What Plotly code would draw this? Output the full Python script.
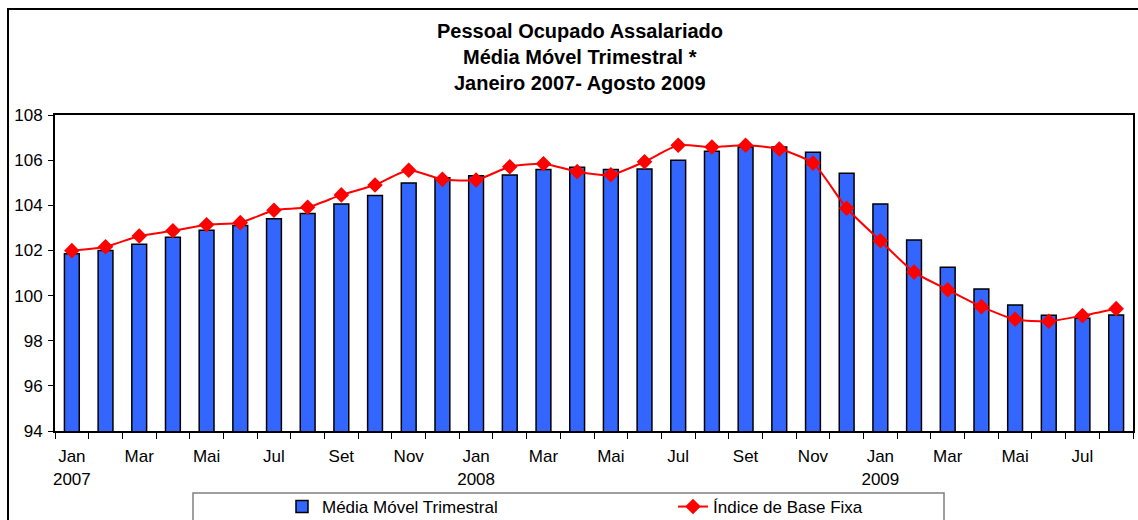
import plotly.graph_objects as go

months = ["Jan", "Fev", "Mar", "Abr", "Mai", "Jun", "Jul", "Ago", "Set", "Out", "Nov", "Dez"] * 2 + \
         ["Jan", "Fev", "Mar", "Abr", "Mai", "Jun", "Jul", "Ago"]
tick_labels = ["Jan<br>2007", "Mar", "Mai", "Jul", "Set", "Nov",
               "Jan<br>2008", "Mar", "Mai", "Jul", "Set", "Nov",
               "Jan<br>2009", "Mar", "Mai", "Jul"]

media_movel = [101.85, 102.0, 102.27, 102.58, 102.89, 103.1, 103.4, 103.64, 104.06, 104.43,
               104.99, 105.22, 105.31, 105.34, 105.58, 105.68, 105.58, 105.61, 105.99, 106.39,
               106.58, 106.58, 106.35, 105.42, 104.06, 102.46, 101.25, 100.29, 99.58, 99.13,
               98.99, 99.14]
indice_base_fixa = [101.99, 102.16, 102.64, 102.87, 103.14, 103.23, 103.78, 103.91, 104.46, 104.9,
                    105.55, 105.15, 105.12, 105.71, 105.84, 105.49, 105.35, 105.93, 106.66, 106.58,
                    106.66, 106.49, 105.87, 103.87, 102.43, 101.04, 100.26, 99.51, 98.95, 98.86,
                    99.11, 99.42]

x = list(range(len(months)))
tick_vals = x[::2]

W, H = 1138, 520
L, R, T, B = 55, 5, 115, 89
PW, PH = W - L - R, H - T - B

def px(v):
    return (v - L) / PW

def py(v):
    return (H - B - v) / PH

FONT = "Liberation Sans, Arial, sans-serif"

fig = go.Figure()
fig.add_trace(go.Bar(
    x=x, y=media_movel, name="Média Móvel Trimestral", width=0.44,
    marker=dict(color="#3366FF", line=dict(color="black", width=1.5)),
))
fig.add_trace(go.Scatter(
    x=x, y=indice_base_fixa, name="Índice de Base Fixa", mode="lines+markers",
    line=dict(color="#FF0000", width=2, shape="spline", smoothing=0.6),
    marker=dict(symbol="diamond", size=12, color="#FF0000"),
))

titles = ["Pessoal Ocupado Assalariado", "Média Móvel Trimestral *", "Janeiro 2007- Agosto 2009"]
ys = [31, 57, 83]
annotations = []
for t, yy in zip(titles, ys):
    annotations.append(dict(text="<b>%s</b>" % t, x=px(580), y=py(yy), xref="paper", yref="paper",
                            showarrow=False, xanchor="center", yanchor="middle",
                            font=dict(size=20, color="black", family=FONT)))

shapes = [
    dict(type="rect", xref="paper", yref="paper", x0=px(8), x1=px(1150), y0=py(9), y1=py(540),
         line=dict(color="black", width=2), fillcolor="rgba(0,0,0,0)", layer="below"),
    dict(type="rect", xref="paper", yref="paper", x0=px(193), x1=px(944), y0=py(493), y1=py(540),
         line=dict(color="#808080", width=1.5), fillcolor="rgba(0,0,0,0)"),
]

fig.update_layout(
    width=W, height=H,
    margin=dict(l=L, r=R, t=T, b=B, pad=0, autoexpand=False),
    paper_bgcolor="white", plot_bgcolor="white",
    font=dict(family=FONT, size=17, color="black"),
    bargap=0.5,
    showlegend=True,
    legend=dict(orientation="h", x=px(282), y=(H - 507) / H, xref="paper", yref="container",
                xanchor="left", yanchor="middle",
                font=dict(size=17, family=FONT), entrywidth=346, bgcolor="rgba(0,0,0,0)",
                traceorder="normal"),
    annotations=annotations,
    shapes=shapes,
    xaxis=dict(range=[-0.5, 31.5], tickmode="array", tickvals=tick_vals, ticktext=tick_labels,
               ticks="", showgrid=False, zeroline=False, showline=True, linecolor="black",
               linewidth=2, mirror=True, ticklabelstandoff=9, automargin=False,
               tickfont=dict(size=17, family=FONT),
               minor=dict(tick0=-0.5, dtick=1, ticks="outside", ticklen=6, tickcolor="black",
                          tickwidth=1, showgrid=False)),
    yaxis=dict(range=[94, 108], dtick=2, tick0=94, ticks="outside", ticklen=5, tickcolor="black",
               showgrid=False, zeroline=False, showline=True, linecolor="black", linewidth=2,
               mirror=True, ticklabelstandoff=2, automargin=False, tickfont=dict(size=17, family=FONT)),
)

fig.write_html("out.html", config={"displayModeBar": False},
               post_script="document.body.style.margin='0px';")
